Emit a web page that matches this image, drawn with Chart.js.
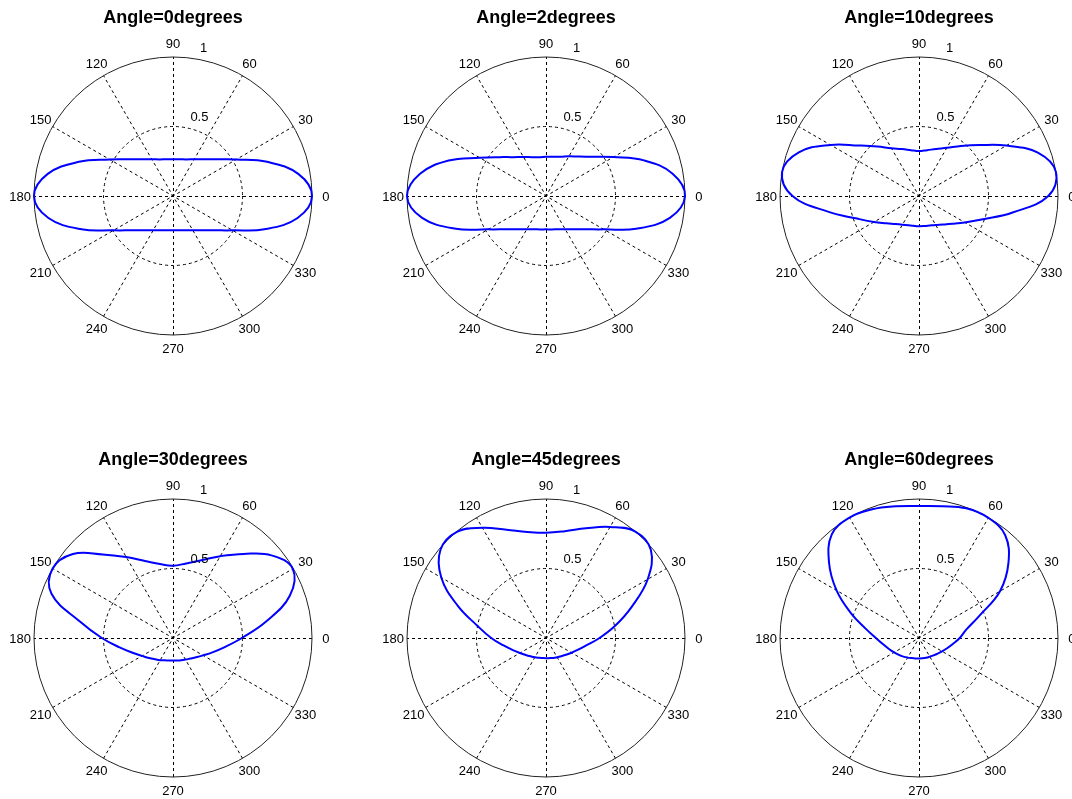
<!DOCTYPE html>
<html>
<head>
<meta charset="utf-8">
<script src="https://cdn.jsdelivr.net/npm/chart.js@4.4.0/dist/chart.umd.min.js"></script>
<style>
  html, body { margin: 0; padding: 0; background: #ffffff; overflow: hidden; }
  #wrap { position: relative; width: 1072px; height: 799px; overflow: hidden; background: #ffffff; }
  #wrap canvas { position: absolute; }
</style>
</head>
<body>
<div id="wrap"></div>
<script>
// ---------------- data ----------------
const TITLES = ['Angle=0degrees', 'Angle=2degrees', 'Angle=10degrees',
                'Angle=30degrees', 'Angle=45degrees', 'Angle=60degrees'];

// polar angle of every sample, degrees (counter-clockwise from 0 = east)
const THETA = [0, 10, 20, 30, 40, 50, 60, 70, 80, 90, 100, 110, 120, 130, 140, 150, 160, 170,
               180, 190, 200, 210, 220, 230, 240, 250, 260, 270, 280, 290, 300, 310, 320, 330, 340, 350];

const R_ANGLE_0 = [1.0, 0.915, 0.72, 0.525, 0.41, 0.345, 0.305, 0.28, 0.268, 0.264, 0.268, 0.28,
                   0.305, 0.345, 0.41, 0.525, 0.72, 0.915, 1.0, 0.91, 0.70, 0.494, 0.384, 0.322,
                   0.285, 0.263, 0.251, 0.247, 0.251, 0.263, 0.285, 0.322, 0.384, 0.494, 0.70, 0.91];

const R_ANGLE_2 = [1.0, 0.925, 0.75, 0.56, 0.44, 0.37, 0.33, 0.30, 0.287, 0.282, 0.283, 0.297,
                   0.325, 0.365, 0.435, 0.55, 0.745, 0.92, 1.0, 0.905, 0.69, 0.48, 0.373, 0.313,
                   0.277, 0.255, 0.244, 0.24, 0.244, 0.255, 0.277, 0.313, 0.373, 0.48, 0.69, 0.905];

const R_ANGLE_10 = [0.93, 1.0, 0.91, 0.725, 0.57, 0.47, 0.40, 0.36, 0.335, 0.323, 0.335, 0.36,
                    0.396, 0.465, 0.565, 0.735, 0.92, 1.0, 0.91, 0.66, 0.475, 0.374, 0.305, 0.263,
                    0.238, 0.224, 0.218, 0.217, 0.219, 0.226, 0.241, 0.268, 0.311, 0.38, 0.49, 0.684];

const R_ANGLE_30 = [0.495, 0.68, 0.895, 0.995, 0.925, 0.79, 0.68, 0.595, 0.545, 0.52, 0.54, 0.59,
                    0.672, 0.785, 0.94, 1.0, 0.93, 0.68, 0.512, 0.39, 0.31, 0.257, 0.224, 0.20,
                    0.184, 0.171, 0.164, 0.162, 0.164, 0.17, 0.179, 0.193, 0.216, 0.25, 0.302, 0.378];

const R_ANGLE_45 = [0.385, 0.505, 0.656, 0.845, 0.985, 1.0, 0.922, 0.84, 0.78, 0.757, 0.775, 0.828,
                    0.915, 0.997, 0.99, 0.87, 0.675, 0.50, 0.394, 0.31, 0.254, 0.216, 0.19, 0.172,
                    0.16, 0.151, 0.146, 0.145, 0.147, 0.153, 0.16, 0.171, 0.188, 0.212, 0.246, 0.297];

const R_ANGLE_60 = [0.293, 0.345, 0.46, 0.673, 0.84, 0.965, 0.998, 0.993, 0.963, 0.95, 0.962, 0.985,
                    1.0, 0.975, 0.845, 0.685, 0.52, 0.39, 0.31, 0.262, 0.23, 0.207, 0.189, 0.175,
                    0.163, 0.154, 0.149, 0.147, 0.148, 0.151, 0.155, 0.163, 0.175, 0.192, 0.215, 0.247];

const SERIES = [R_ANGLE_0, R_ANGLE_2, R_ANGLE_10, R_ANGLE_30, R_ANGLE_45, R_ANGLE_60];

// angular grid (spokes) and its labels
const SPOKE_ANGLES = [0, 30, 60, 90, 120, 150, 180, 210, 240, 270, 300, 330];
const SPOKE_LABELS = ['0', '30', '60', '90', '120', '150', '180', '210', '240', '270', '300', '330'];
// radial grid and its labels
const RADIAL_TICKS = [0.5, 1];
const RADIAL_LABELS = ['0.5', '1'];
const RMAX = 1;

// ---------------- layout ----------------
const CENTERS_X = [173, 546, 919];
const CENTERS_Y = [196, 638];
const CW = 360, CH = 360;        // canvas size
const OFF_X = 180, OFF_Y = 190;  // centre of the polar axes inside the canvas

const polarGrid = {
  id: 'polarGrid',
  beforeDatasetsDraw(chart) {
    const { ctx } = chart;
    const s = chart.scales.r;
    const cx = s.xCenter, cy = s.yCenter;
    const d = v => s.getDistanceFromCenterForValue(v);
    const P = (a, v) => [cx + d(v) * Math.cos(a * Math.PI / 180), cy - d(v) * Math.sin(a * Math.PI / 180)];
    ctx.save();
    ctx.lineWidth = 1;
    // inner dotted circles
    ctx.setLineDash([3, 3]);
    ctx.strokeStyle = '#000000';
    RADIAL_TICKS.forEach(t => {
      if (t >= RMAX) return;
      ctx.beginPath();
      ctx.arc(cx, cy, d(t), 0, Math.PI * 2);
      ctx.stroke();
    });
    // spokes: each runs through the centre from one edge to the other
    SPOKE_ANGLES.filter(a => a > 0 && a <= 180).forEach(a => {
      const [x1, y1] = P(a + 180, RMAX);
      const [x2, y2] = P(a, RMAX);
      const ox = (Math.abs(x1 - x2) < 0.01) ? 0.5 : 0;
      const oy = (Math.abs(y1 - y2) < 0.01) ? 0.5 : 0;
      ctx.beginPath();
      ctx.moveTo(x1 + ox, y1 + oy);
      ctx.lineTo(x2 + ox, y2 + oy);
      ctx.stroke();
    });
    // outer solid circle
    ctx.setLineDash([]);
    ctx.strokeStyle = '#222222';
    ctx.beginPath();
    ctx.arc(cx, cy, d(RMAX), 0, Math.PI * 2);
    ctx.stroke();
    ctx.restore();
  },
  afterDatasetsDraw(chart) {
    const { ctx } = chart;
    const s = chart.scales.r;
    const cx = s.xCenter, cy = s.yCenter;
    const d = v => s.getDistanceFromCenterForValue(v);
    const P = (a, v) => [cx + d(v) * Math.cos(a * Math.PI / 180), cy - d(v) * Math.sin(a * Math.PI / 180)];
    ctx.save();
    ctx.fillStyle = '#000000';
    ctx.font = '13px "Liberation Sans", Arial, sans-serif';
    // angle labels at 1.1 * rmax
    ctx.textAlign = 'center';
    ctx.textBaseline = 'middle';
    SPOKE_ANGLES.forEach((a, i) => {
      const [lx, ly] = P(a, 1.1 * RMAX);
      ctx.fillText(SPOKE_LABELS[i], lx, ly + 1);
    });
    // radial labels along the 82 degree ray
    ctx.textAlign = 'left';
    ctx.textBaseline = 'alphabetic';
    RADIAL_TICKS.forEach((t, i) => {
      const [lx, ly] = P(82, t + RADIAL_TICKS[0] / 20);
      ctx.fillText('  ' + RADIAL_LABELS[i], lx, ly - 3);
    });
    ctx.restore();
  }
};

const wrap = document.getElementById('wrap');

// radar index i sits 10*i degrees clockwise from east, i.e. at polar angle -10*i
const n = THETA.length;
const ORDER = THETA.map((_, i) => (n - i) % n);

SERIES.forEach((r, idx) => {
  const cx = CENTERS_X[idx % 3];
  const cy = CENTERS_Y[Math.floor(idx / 3)];
  const cv = document.createElement('canvas');
  cv.width = CW; cv.height = CH;
  cv.style.width = CW + 'px'; cv.style.height = CH + 'px';
  cv.style.left = (cx - OFF_X) + 'px';
  cv.style.top = (cy - OFF_Y) + 'px';
  wrap.appendChild(cv);

  new Chart(cv, {
    type: 'radar',
    data: {
      labels: ORDER.map(j => String(THETA[j])),
      datasets: [{
        data: ORDER.map(j => r[j]),
        borderColor: '#0000ff',
        backgroundColor: 'rgba(0,0,0,0)',
        borderWidth: 2,
        pointRadius: 0,
        pointHoverRadius: 0,
        pointHitRadius: 0,
        tension: 0.4,
        fill: false
      }]
    },
    options: {
      responsive: false,
      animation: false,
      devicePixelRatio: 1,
      events: [],
      layout: { padding: { left: 41, right: 41, top: 0, bottom: 31 } },
      plugins: {
        legend: { display: false },
        tooltip: { enabled: false },
        title: {
          display: true,
          text: TITLES[idx],
          color: '#000000',
          font: { family: '"Liberation Sans", Arial, sans-serif', size: 18, weight: 'bold', lineHeight: '20px' },
          padding: { top: 2, bottom: 29 }
        }
      },
      scales: {
        r: {
          min: 0,
          max: RMAX,
          startAngle: 90,
          ticks: { display: false },
          grid: { display: false },
          angleLines: { display: false },
          pointLabels: { display: false }
        }
      }
    },
    plugins: [polarGrid]
  });
});
</script>
</body>
</html>
